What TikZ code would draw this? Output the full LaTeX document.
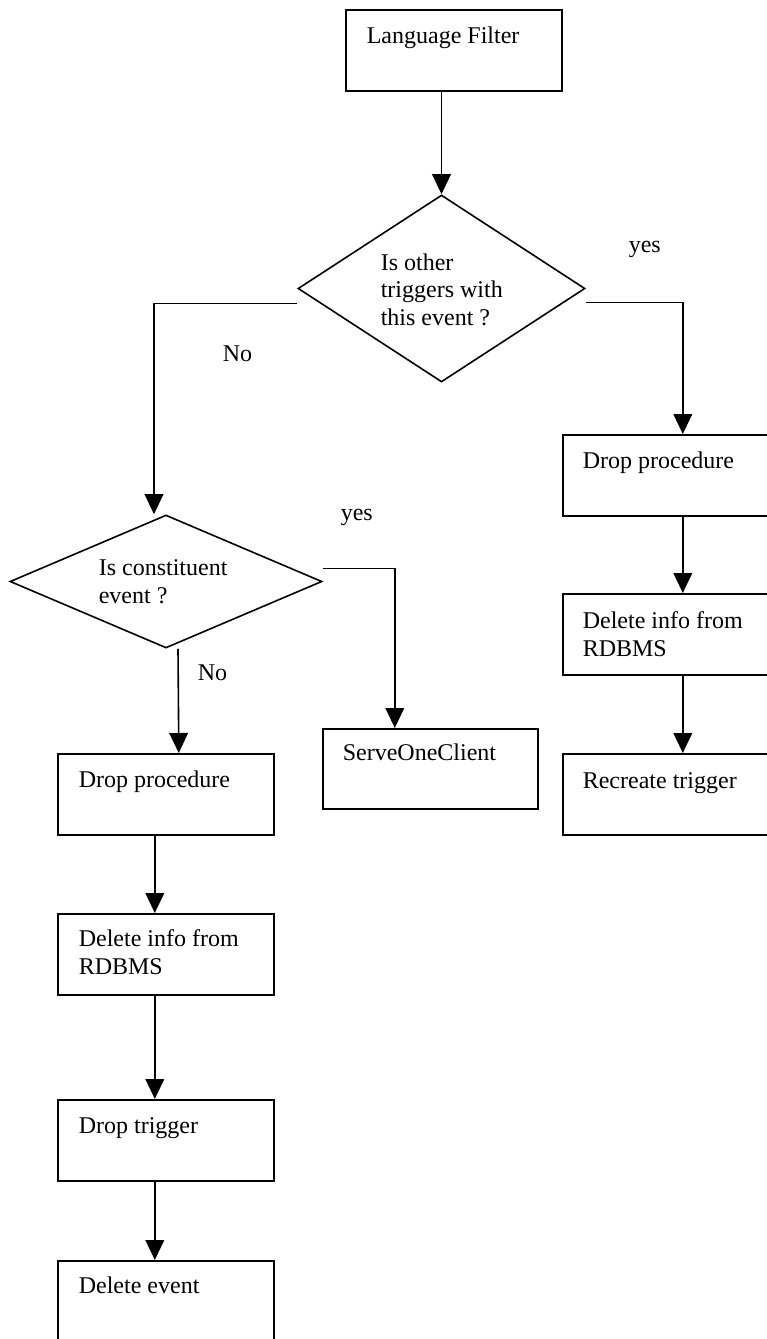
\documentclass[tikz,border=0pt]{standalone}
\usepackage{fontspec}
\setmainfont{Liberation Serif}
\usetikzlibrary{arrows.meta,positioning,calc,shapes.geometric}

\begin{document}
\begin{tikzpicture}[x=0.75pt,y=-0.75pt,line width=1.2pt,
  >={Triangle[length=15pt,width=14pt]},
  font=\fontsize{18pt}{20.6pt}\selectfont,
  box/.style={draw,rectangle,anchor=north west,inner sep=0pt,
    minimum width=162pt,minimum height=60.75pt},
  test/.style={draw,diamond,inner sep=0pt},
  txt/.style={anchor=base west,inner sep=0pt,align=left}]
\useasboundingbox (0,0) rectangle (767,1339);
\clip (0,0) rectangle (767,1339);
% start box
\node[box] (lf) at (345,9) {};
\node[txt] (lftxt) at ($(lf.north west)+(21,34)$) {Language Filter};
% first test
\node[test,minimum width=215.25pt,minimum height=140.25pt] (d1) at (441.5,288.5) {};
\node[txt] (d1txt) at (380,325) {Is other\\triggers with\\this event ?};
% yes branch of first test
\node[box] (dpR) at (562,434) {};
\node[txt] (dpRtxt) at ($(dpR.north west)+(20,34)$) {Drop procedure};
\node[box] (diR) at (562,593) {};
\node[txt] (diRtxt) at ($(diR.north west)+(20,63)$) {Delete info from\\RDBMS};
\node[box] (rt) at (562,753) {};
\node[txt] (rttxt) at ($(rt.north west)+(20,35)$) {Recreate trigger};
% second test
\node[test,minimum width=234pt,minimum height=99.75pt] (d2) at (166,581.5) {};
\node[txt] (d2txt) at (98,603) {Is constituent\\event ?};
\node[box,minimum width=161.25pt,minimum height=60pt] (soc) at (322,728) {};
\node[txt] (soctxt) at ($(soc.north west)+(20,32)$) {ServeOneClient};
% no branch of second test
\node[box] (dpL) at (57,753) {};
\node[txt] (dpLtxt) at ($(dpL.north west)+(21,34)$) {Drop procedure};
\node[box] (diL) at (57,913) {};
\node[txt] (diLtxt) at ($(diL.north west)+(21,61)$) {Delete info from\\RDBMS};
\node[box] (dt) at (57,1099) {};
\node[txt] (dttxt) at ($(dt.north west)+(21,34)$) {Drop trigger};
\node[box] (de) at (57,1260) {};
\node[txt] (detxt) at ($(de.north west)+(21,33)$) {Delete event};
% branch labels
\node[txt] (yes1) at (628,252) {yes};
\node[txt] (no1) at (222,361) {No};
\node[txt] (yes2) at (340,520) {yes};
\node[txt] (no2) at (197,680) {No};
% connectors
\draw[->] (lf.south -| d1.north) -- (d1.north);
\draw[->] ($(d1.west)+(0,15)$) -| ($(d2.north)+(-12,0)$);
\draw[->] ($(d1.east)+(0,14)$) -| ($(dpR.north)+(12,0)$);
\draw[->] ($(dpR.south)+(12,0)$) -- ($(diR.north)+(12,0)$);
\draw[->] ($(diR.south)+(12,0)$) -- ($(rt.north)+(12,0)$);
\draw[->] ($(d2.east)+(0,-13)$) -| ($(soc.north)+(-35.5,0)$);
\draw[->] ($(d2.south)+(12,0)$) -- ($(dpL.north)+(13,0)$);
\draw[->] ($(dpL.south)+(-11,0)$) -- ($(diL.north)+(-11,0)$);
\draw[->] ($(diL.south)+(-11,0)$) -- ($(dt.north)+(-11,0)$);
\draw[->] ($(dt.south)+(-11,0)$) -- ($(de.north)+(-11,0)$);
\end{tikzpicture}
\end{document}
